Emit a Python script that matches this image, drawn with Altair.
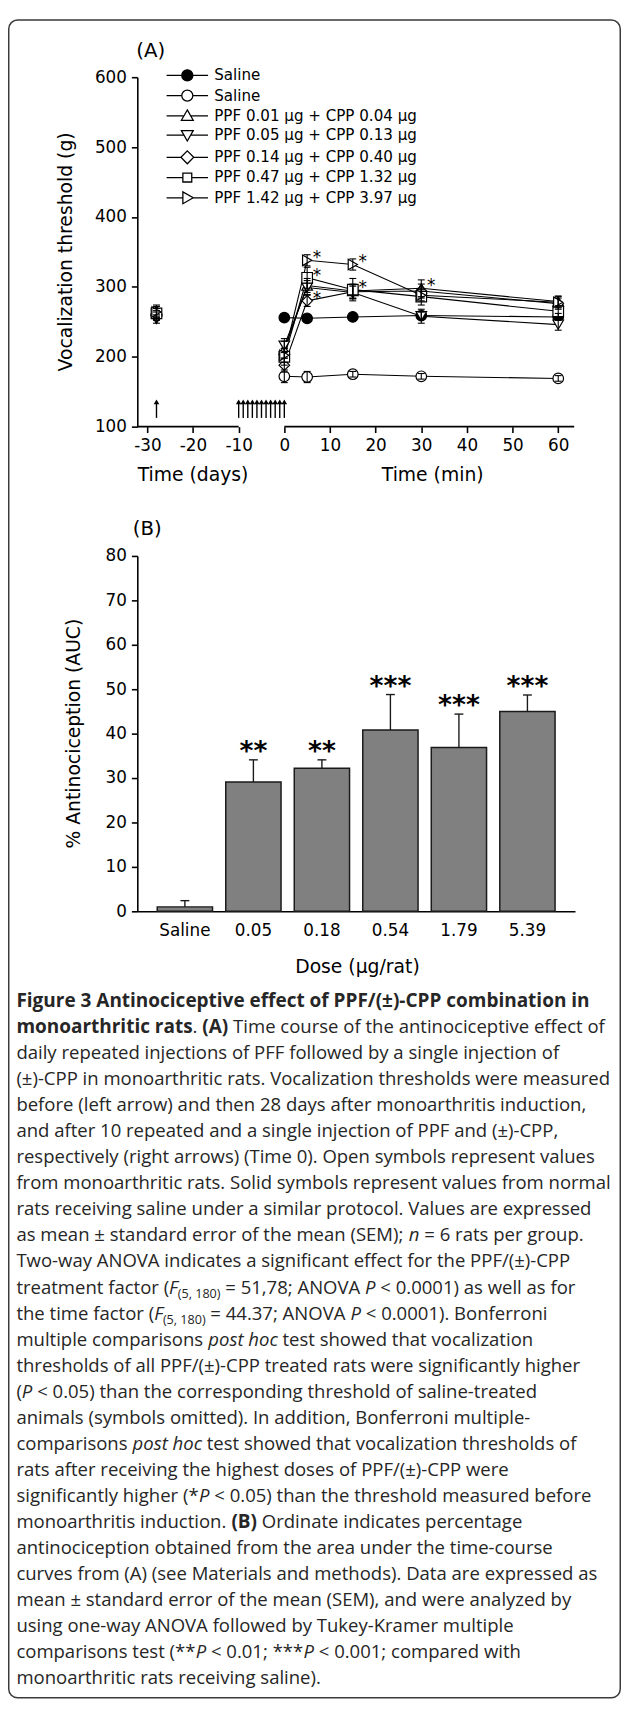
import os, glob, struct
import altair as alt
import pandas as pd

# ======================= DATA =======================
# ---- Panel A : vocalization threshold (g) ----
A_series = ["Saline", "Saline ", "PPF 0.01 µg + CPP 0.04 µg", "PPF 0.05 µg + CPP 0.13 µg",
            "PPF 0.14 µg + CPP 0.40 µg", "PPF 0.47 µg + CPP 1.32 µg", "PPF 1.42 µg + CPP 3.97 µg"]
A_shapes = ["circle", "circle", "triangle-up", "triangle-down", "diamond", "square", "triangle-right"]
A_fills = ["black", "white", "white", "white", "white", "white", "white"]
A_times = [0, 5, 15, 30, 60]
A_v_saline_normal = [256, 255, 257, 259, 257]
A_v_saline_arthr = [172, 171, 175, 172, 169]
A_v_d1 = [210, 302, 294, 298, 279]
A_v_d2 = [216, 299, 292, 258, 246]
A_v_d3 = [188, 280, 293, 294, 276]
A_v_d4 = [200, 313, 296, 286, 265]
A_v_d5 = [202, 338, 332, 288, 278]
A_e_saline_normal = [5, 5, 5, 5, 5]
A_e_saline_arthr = [9, 8, 4, 4, 4]
A_e_d1 = [12, 10, 10, 12, 8]
A_e_d2 = [10, 10, 9, 10, 8]
A_e_d3 = [10, 8, 10, 10, 8]
A_e_d4 = [12, 15, 16, 12, 8]
A_e_d5 = [10, 8, 8, 8, 8]
A_base_day = -28
A_base_vals = [260, 266, 254, 258, 262, 264]      # series 1..6 (before induction)
A_base_sem = [6, 8, 6, 6, 7, 8]
A_star_t = [5, 5, 5, 15, 15, 30]
A_star_series = [6, 5, 4, 6, 5, 2]
A_arrow_days = [-28, -10, -9, -8, -7, -6, -5, -4, -3, -2, -1, 0]
A_xticks = [-30, -20, -10, 0, 10, 20, 30, 40, 50, 60]
A_yticks = [100, 200, 300, 400, 500, 600]

# ---- Panel B : % antinociception (AUC) ----
B_doses = ["Saline", "0.05", "0.18", "0.54", "1.79", "5.39"]
B_auc = [1.0, 29.1, 32.2, 40.8, 36.9, 45.0]
B_sem = [1.4, 5.0, 1.9, 8.0, 7.5, 3.7]
B_stars = ["", "**", "**", "***", "***", "***"]
B_yticks = [0, 10, 20, 30, 40, 50, 60, 70, 80]

# ---- Caption ----
CAPTION = [
    [("Figure 3 Antinociceptive effect of PPF/(±)-CPP combination in", "b")],
    [("monoarthritic rats", "b"), (". ", "r"), ("(A)", "b"), (" Time course of the antinociceptive effect of", "r")],
    [("daily repeated injections of PFF followed by a single injection of", "r")],
    [("(±)-CPP in monoarthritic rats. Vocalization thresholds were measured", "r")],
    [("before (left arrow) and then 28 days after monoarthritis induction,", "r")],
    [("and after 10 repeated and a single injection of PPF and (±)-CPP,", "r")],
    [("respectively (right arrows) (Time 0). Open symbols represent values", "r")],
    [("from monoarthritic rats. Solid symbols represent values from normal", "r")],
    [("rats receiving saline under a similar protocol. Values are expressed", "r")],
    [("as mean ± standard error of the mean (SEM); ", "r"), ("n", "i"), (" = 6 rats per group.", "r")],
    [("Two-way ANOVA indicates a significant effect for the PPF/(±)-CPP", "r")],
    [("treatment factor (", "r"), ("F", "i"), ("(5, 180)", "s"), (" = 51,78; ANOVA ", "r"), ("P", "i"),
     (" < 0.0001) as well as for", "r")],
    [("the time factor (", "r"), ("F", "i"), ("(5, 180)", "s"), (" = 44.37; ANOVA ", "r"), ("P", "i"),
     (" < 0.0001). Bonferroni", "r")],
    [("multiple comparisons ", "r"), ("post hoc", "i"), (" test showed that vocalization", "r")],
    [("thresholds of all PPF/(±)-CPP treated rats were significantly higher", "r")],
    [("(", "r"), ("P", "i"), (" < 0.05) than the corresponding threshold of saline-treated", "r")],
    [("animals (symbols omitted). In addition, Bonferroni multiple-", "r")],
    [("comparisons ", "r"), ("post hoc", "i"), (" test showed that vocalization thresholds of", "r")],
    [("rats after receiving the highest doses of PPF/(±)-CPP were", "r")],
    [("significantly higher (*", "r"), ("P", "i"), (" < 0.05) than the threshold measured before", "r")],
    [("monoarthritis induction. ", "r"), ("(B)", "b"), (" Ordinate indicates percentage", "r")],
    [("antinociception obtained from the area under the time-course", "r")],
    [("curves from (A) (see Materials and methods). Data are expressed as", "r")],
    [("mean ± standard error of the mean (SEM), and were analyzed by", "r")],
    [("using one-way ANOVA followed by Tukey-Kramer multiple", "r")],
    [("comparisons test (**", "r"), ("P", "i"), (" < 0.01; ***", "r"), ("P", "i"), (" < 0.001; compared with", "r")],
    [("monoarthritic rats receiving saline).", "r")],
]
# right ends (page px) of some single-style lines in the reference, used to fit the font size
CAP_FIT = {2: 549.5, 3: 619.7, 4: 585.6, 5: 519.5, 6: 619.7, 7: 619.7, 8: 597.7, 10: 593.7, 14: 613.7, 16: 497.4}

# ======================= LAYOUT (page px) =======================
FONT = "DejaVu Sans"
CAP_FONT = "Open Sans"
PX_LEFT = 139.0                 # left edge of both plot areas
A_TOP, A_H, A_W = 66.7, 354.0, 442.6
B_TOP, B_H, B_W = 551.7, 360.0, 443.4
SPACING = B_TOP - (A_TOP + A_H)
C_TOP = B_TOP + B_H + SPACING
CAP_X, CAP_Y1, CAP_DY = 16.5, 1002.5, 26.4
BOLD_K = 1.024


# ======================= text metrics for the caption =======================
def find_font(cands):
    roots = ["/usr/share/fonts", "/usr/local/share/fonts",
             os.path.expanduser("~/.fonts"), os.path.expanduser("~/.local/share/fonts")]
    for c in cands:
        for r in roots:
            if not os.path.isdir(r):
                continue
            hits = glob.glob(os.path.join(glob.escape(r), "**", glob.escape(c)), recursive=True)
            if hits:
                return sorted(hits)[0]
    return None


class Metrics:
    def __init__(self, path):
        d = open(path, "rb").read()
        base = 0
        if d[:4] == b"ttcf":
            base = struct.unpack(">I", d[12:16])[0]
        n = struct.unpack(">H", d[base + 4:base + 6])[0]
        tabs = {}
        for i in range(n):
            rec = base + 12 + 16 * i
            tag, _c, off, _l = struct.unpack(">4sIII", d[rec:rec + 16])
            tabs[tag] = off
        head, hhea, hmtx, cmap = tabs[b"head"], tabs[b"hhea"], tabs[b"hmtx"], tabs[b"cmap"]
        self.upem = struct.unpack(">H", d[head + 18:head + 20])[0]
        nh = struct.unpack(">H", d[hhea + 34:hhea + 36])[0]
        self.adv = [struct.unpack(">H", d[hmtx + 4 * i:hmtx + 4 * i + 2])[0] for i in range(nh)]
        nsub = struct.unpack(">H", d[cmap + 2:cmap + 4])[0]
        self.seg = None
        for i in range(nsub):
            pid, eid, so = struct.unpack(">HHI", d[cmap + 4 + 8 * i:cmap + 12 + 8 * i])
            st = cmap + so
            if struct.unpack(">H", d[st:st + 2])[0] == 4:
                sx2 = struct.unpack(">H", d[st + 6:st + 8])[0]
                ns = sx2 // 2
                ends = struct.unpack(">%dH" % ns, d[st + 14:st + 14 + sx2])
                starts = struct.unpack(">%dH" % ns, d[st + 16 + sx2:st + 16 + 2 * sx2])
                deltas = struct.unpack(">%dh" % ns, d[st + 16 + 2 * sx2:st + 16 + 3 * sx2])
                ro = st + 16 + 3 * sx2
                roffs = struct.unpack(">%dH" % ns, d[ro:ro + sx2])
                self.seg = (ends, starts, deltas, roffs, ro)
                break
        if self.seg is None:
            raise ValueError("no cmap 4")
        self.d = d
        self.cache = {}

    def gid(self, c):
        ends, starts, deltas, roffs, ro = self.seg
        for i in range(len(ends)):
            if ends[i] >= c:
                if starts[i] > c:
                    return 0
                if roffs[i] == 0:
                    return (c + deltas[i]) & 0xFFFF
                a = ro + 2 * i + roffs[i] + 2 * (c - starts[i])
                g = struct.unpack(">H", self.d[a:a + 2])[0]
                return ((g + deltas[i]) & 0xFFFF) if g else 0
        return 0

    def width(self, s, size):
        tot = 0
        for ch in s:
            if ch not in self.cache:
                g = self.gid(ord(ch))
                self.cache[ch] = self.adv[min(g, len(self.adv) - 1)]
            tot += self.cache[ch]
        return tot * size / self.upem


class Approx:
    def __init__(self, k=1.0):
        self.k = k

    def width(self, s, size):
        return sum(0.3 if ch == " " else 0.56 for ch in s) * size * self.k


def load(cands, fallback):
    p = find_font(cands)
    if p:
        try:
            return Metrics(p)
        except Exception:
            pass
    return fallback


M_R = load(["OpenSans-Regular.ttf", "OpenSans[wdth,wght].ttf", "OpenSans-VariableFont_wdth,wght.ttf"], Approx(1.0))
M_B = load(["OpenSans-Bold.ttf"], None)
M_I = load(["OpenSans-Italic.ttf", "OpenSans-Italic[wdth,wght].ttf",
            "OpenSans-Italic-VariableFont_wdth,wght.ttf"], None)

ratios = sorted((end - CAP_X) / M_R.width(CAPTION[i][0][0], 1.0) for i, end in CAP_FIT.items())
CAP_FS = max(15.0, min(22.0, ratios[len(ratios) // 2]))
CAP_FS_B = round(CAP_FS * BOLD_K, 2)
CAP_FS_S = round(CAP_FS * 0.68, 2)


def seg_width(t, style):
    if style == "b":
        return M_B.width(t, CAP_FS_B) if M_B else M_R.width(t, CAP_FS_B) * 1.06
    if style == "i":
        return M_I.width(t, CAP_FS) if M_I else M_R.width(t, CAP_FS) * 0.96
    if style == "s":
        return M_R.width(t, CAP_FS_S)
    return M_R.width(t, CAP_FS)


cap_rows = []
for li, line in enumerate(CAPTION):
    x = CAP_X
    yb = CAP_Y1 + li * CAP_DY + 0.32 * CAP_FS
    for txt, style in line:
        lead = len(txt) - len(txt.lstrip(" "))
        core = txt.strip(" ")
        if core:
            xs = x + seg_width(" " * lead, style)
            ys = yb + (0.22 * CAP_FS if style == "s" else 0)
            cap_rows.append({"px": xs - PX_LEFT, "py": ys - C_TOP, "txt": core, "style": style})
        x += seg_width(txt, style)
cap_df = pd.DataFrame(cap_rows)

# ======================= build data frames =======================
A_vals = [A_v_saline_normal, A_v_saline_arthr, A_v_d1, A_v_d2, A_v_d3, A_v_d4, A_v_d5]
A_sems = [A_e_saline_normal, A_e_saline_arthr, A_e_d1, A_e_d2, A_e_d3, A_e_d4, A_e_d5]
rows = []
for s, name in enumerate(A_series):
    for t, v, e in zip(A_times, A_vals[s], A_sems[s]):
        rows.append({"series": name, "order": s, "t": t, "v": v, "lo": v - e, "hi": v + e, "main": 1})
for s, (v, e) in enumerate(zip(A_base_vals, A_base_sem), start=1):
    rows.append({"series": A_series[s], "order": s, "t": A_base_day, "v": v, "lo": v - e, "hi": v + e, "main": 0})
dfA = pd.DataFrame(rows).sort_values(["order", "t"]).reset_index(drop=True)
dfA_line = dfA[dfA.main == 1]
dfA_caps = pd.concat([dfA.assign(cap=dfA.hi), dfA.assign(cap=dfA.lo)])
dfA_star = pd.DataFrame({"t": A_star_t,
                         "v": [A_vals[s][A_times.index(t)] for t, s in zip(A_star_t, A_star_series)],
                         "txt": ["*"] * len(A_star_t)})
dfA_arrow = pd.DataFrame({"t": A_arrow_days})
dfA_axis = pd.DataFrame({"t": [-32.2, 0], "t2": [-10, 63.5]})
dfA_titles = pd.DataFrame({"t": [-20, 32.5], "txt": ["Time (days)", "Time (min)"]})

dfB = pd.DataFrame({"dose": B_doses, "auc": B_auc, "top": [a + e for a, e in zip(B_auc, B_sem)], "star": B_stars})
one = pd.DataFrame({"k": [0]})


# ======================= helpers =======================
def axis(**kw):
    base = dict(labelFont=FONT, labelFontSize=17, labelColor="black", domainColor="black",
                domainWidth=1.6, tickColor="black", tickWidth=1.6, tickSize=6, grid=False, title=None)
    base.update(kw)
    return alt.Axis(**base)


XSC_A = alt.Scale(domain=[-32.2, 63.5], nice=False, zero=False)
YSC_A = alt.Scale(domain=[100, 600], nice=False, zero=False)
AX_AX = axis(values=A_xticks, domain=False, labelBaseline="middle", labelPadding=13,
             labelExpr="'' + datum.value")
AX_AY = axis(values=A_yticks, labelPadding=5)


def XA(f):
    return alt.X(f, type="quantitative", scale=XSC_A, axis=AX_AX)


def YA(f):
    return alt.Y(f, type="quantitative", scale=YSC_A, axis=AX_AY)


# legend symbols: line + marker, drawn as custom paths (unit = 6.5 px)
U = 6.5


def lp(poly, edge, circle=None):
    p = "M%.3f,0L%.3f,0M%.3f,0L%.3f,0" % (-21 / U, -edge[0] / U, edge[1] / U, 21 / U)
    if circle:
        r = circle / U
        p += "M%.3f,0A%.3f,%.3f 0 1,0 %.3f,0A%.3f,%.3f 0 1,0 %.3f,0Z" % (-r, r, r, r, r, r, -r)
    else:
        p += "M" + "L".join("%.3f,%.3f" % (a / U, b / U) for a, b in poly) + "Z"
    return p


LEG_PATHS = [
    lp(None, (5.6, 5.6), 5.6),
    lp(None, (5.6, 5.6), 5.6),
    lp([(0, -6), (6, 4.5), (-6, 4.5)], (3.4, 3.4)),
    lp([(0, 6), (6, -4.5), (-6, -4.5)], (3.4, 3.4)),
    lp([(0, -6.5), (6.5, 0), (0, 6.5), (-6.5, 0)], (6.5, 6.5)),
    lp([(-4.5, -4.5), (4.5, -4.5), (4.5, 4.5), (-4.5, 4.5)], (4.5, 4.5)),
    lp([(6, 0), (-4.5, 6), (-4.5, -6)], (4.5, 6)),
]
LEG = alt.Legend(orient="none", legendX=43, legendY=-9.5, title=None, labelFont=FONT,
                 labelFontSize=15.3, labelColor="black", labelOffset=19.6, labelLimit=400,
                 rowPadding=3.5, symbolStrokeColor="black", symbolStrokeWidth=1.3,
                 symbolSize=169, symbolOffset=0, padding=0, direction="vertical", symbolOpacity=1)

# ======================= Panel A =======================
a_axisline = alt.Chart(dfA_axis).mark_rule(color="black", strokeWidth=1.6).encode(
    x=XA("t"), x2="t2:Q", y=alt.value(A_H))
a_lines = alt.Chart(dfA_line).mark_line(color="black", strokeWidth=1.1).encode(
    x=XA("t"), y=YA("v"), detail="series:N", order="t:Q")
a_points = alt.Chart(dfA).mark_point(filled=True, opacity=1, size=115, stroke="black", strokeWidth=1.2).encode(
    x=XA("t"), y=YA("v"),
    shape=alt.Shape("series:N", scale=alt.Scale(domain=A_series, range=A_shapes), legend=None),
    fill=alt.Fill("series:N", scale=alt.Scale(domain=A_series, range=A_fills), legend=None))
a_err = alt.Chart(dfA).mark_rule(color="black", strokeWidth=1.1).encode(x=XA("t"), y=YA("lo"), y2="hi:Q")
a_caps = alt.Chart(dfA_caps).mark_tick(orient="horizontal", size=7, thickness=1.1, color="black", opacity=1).encode(
    x=XA("t"), y=YA("cap"))
a_stars = alt.Chart(dfA_star).mark_text(font=FONT, fontSize=17, align="center", baseline="alphabetic",
                                        dx=10, dy=3, color="black").encode(x=XA("t"), y=YA("v"), text="txt:N")
a_arrow = alt.Chart(dfA_arrow).mark_rule(color="black", strokeWidth=1.4).encode(
    x=XA("t"), y=alt.Y(datum=112.5, scale=YSC_A, axis=AX_AY), y2=alt.Y2(datum=133))
a_head = alt.Chart(dfA_arrow).mark_point(shape="triangle-up", filled=True, color="black", size=32, opacity=1).encode(
    x=XA("t"), y=alt.Y(datum=135.5, scale=YSC_A, axis=AX_AY))
a_legend = alt.Chart(dfA).mark_point(filled=True, opacity=1, size=169, strokeWidth=1.3).encode(
    x=XA("t"), y=YA("v"),
    shape=alt.Shape("series:N", scale=alt.Scale(domain=A_series, range=LEG_PATHS), legend=LEG),
    fill=alt.Fill("series:N", scale=alt.Scale(domain=A_series, range=A_fills), legend=LEG),
    stroke=alt.Stroke("series:N", scale=alt.Scale(domain=A_series, range=["black"] * len(A_series)), legend=LEG),
).transform_filter("false")
a_xt = alt.Chart(dfA_titles).mark_text(font=FONT, fontSize=19, align="center", baseline="middle", color="black").encode(
    x=XA("t"), y=alt.value(A_H + 49), text="txt:N")
a_yt = alt.Chart(one).mark_text(text="Vocalization threshold (g)", font=FONT, fontSize=19, angle=270,
                                align="center", baseline="middle", color="black").encode(
    x=alt.value(67 - PX_LEFT), y=alt.value(A_H / 2))
a_lab = alt.Chart(one).mark_text(text="(A)", font=FONT, fontSize=20, align="left", baseline="middle",
                                 color="black").encode(x=alt.value(138 - PX_LEFT), y=alt.value(40 - A_TOP))

A = alt.layer(a_axisline, a_lines, a_points, a_err, a_caps, a_stars, a_arrow, a_head, a_legend,
              a_xt, a_yt, a_lab).resolve_scale(shape="independent", fill="independent",
                                               stroke="independent").properties(width=A_W, height=A_H)

# ======================= Panel B =======================
XSC_B = alt.Scale(domain=B_doses, paddingInner=0.193, paddingOuter=0.291)
YSC_B = alt.Scale(domain=[0, 80], nice=False)
AX_BX = axis(ticks=False, labelBaseline="middle", labelPadding=20, labelAngle=0)
AX_BY = axis(values=B_yticks, labelPadding=5)


def XB():
    return alt.X("dose:N", scale=XSC_B, axis=AX_BX, sort=B_doses)


b_bars = alt.Chart(dfB).mark_bar(color="#808080", stroke="#1a1a1a", strokeWidth=1.5).encode(
    x=XB(), y=alt.Y("auc:Q", scale=YSC_B, axis=AX_BY))
b_err = alt.Chart(dfB).mark_rule(color="#1a1a1a", strokeWidth=1.4).encode(
    x=XB(), y=alt.Y("auc:Q", scale=YSC_B, axis=AX_BY), y2="top:Q")
b_cap = alt.Chart(dfB).mark_tick(orient="horizontal", size=9, thickness=1.4, color="#1a1a1a", opacity=1).encode(
    x=XB(), y=alt.Y("top:Q", scale=YSC_B, axis=AX_BY))
b_star = alt.Chart(dfB).mark_text(font=FONT, fontWeight="bold", fontSize=27, align="center",
                                  baseline="alphabetic", dy=0, color="black").encode(
    x=XB(), y=alt.Y("top:Q", scale=YSC_B, axis=AX_BY), text="star:N")
b_xt = alt.Chart(one).mark_text(text="Dose (μg/rat)", font=FONT, fontSize=19, align="center",
                                baseline="middle", color="black").encode(
    x=alt.value(362 - PX_LEFT), y=alt.value(B_H + 56))
b_yt = alt.Chart(one).mark_text(text="% Antinociception (AUC)", font=FONT, fontSize=19, angle=270,
                                align="center", baseline="middle", color="black").encode(
    x=alt.value(75 - PX_LEFT), y=alt.value(B_H / 2))
b_lab = alt.Chart(one).mark_text(text="(B)", font=FONT, fontSize=20, align="left", baseline="middle",
                                 color="black").encode(x=alt.value(134.4 - PX_LEFT), y=alt.value(524 - B_TOP))

B = alt.layer(b_bars, b_err, b_cap, b_star, b_xt, b_yt, b_lab).properties(width=B_W, height=B_H)

# ======================= Caption + frame =======================
def cap_layer(style, **mk):
    d = cap_df[cap_df["style"] == style]
    return alt.Chart(d).mark_text(align="left", baseline="alphabetic", font=CAP_FONT, color="#262626", **mk).encode(
        x=alt.X("px:Q", scale=None, axis=None), y=alt.Y("py:Q", scale=None, axis=None), text="txt:N")


frame = alt.Chart(one).mark_rect(fill="transparent", stroke="#3a3a3a", strokeWidth=1.5, cornerRadius=9).encode(
    x=alt.value(8.75 - PX_LEFT), x2=alt.value(628.25 - PX_LEFT),
    y=alt.value(8.75 - C_TOP), y2=alt.value(1708.5 - C_TOP))

C = alt.layer(
    frame,
    cap_layer("r", fontSize=CAP_FS),
    cap_layer("b", fontSize=CAP_FS_B, fontWeight="bold"),
    cap_layer("i", fontSize=CAP_FS, fontStyle="italic"),
    cap_layer("s", fontSize=CAP_FS_S),
).properties(width=B_W, height=600)

chart = alt.vconcat(A, B, C, spacing=SPACING, bounds="flush").properties(padding=0).configure_view(strokeWidth=0)
chart.save("out.html", embed_options={"renderer": "svg", "actions": False})
